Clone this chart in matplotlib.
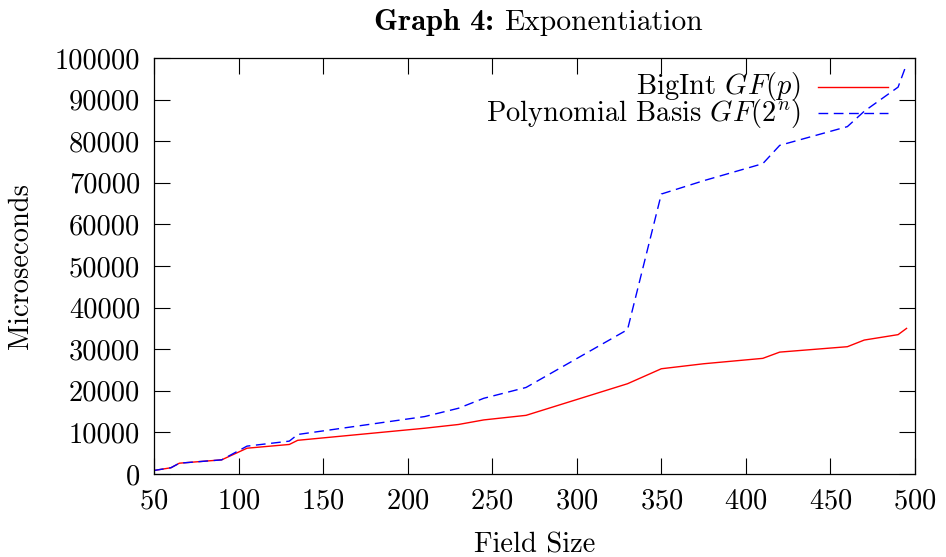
import matplotlib
matplotlib.use("Agg")
import matplotlib.pyplot as plt
from matplotlib.ticker import MultipleLocator, StrMethodFormatter

plt.rcParams['font.family'] = ['cmr10', 'DejaVu Serif']
plt.rcParams['mathtext.fontset'] = 'cm'
plt.rcParams['axes.formatter.use_mathtext'] = True

# field sizes (bits) and timings in microseconds
field_size = [50, 60, 65, 90, 105, 130, 135, 210, 230, 245, 270, 330, 350,
              375, 410, 420, 460, 470, 490, 495]
bigint_gfp = [850, 1500, 2600, 3400, 6200, 7100, 8100, 11000, 11900, 13000,
              14100, 21700, 25300, 26500, 27800, 29300, 30600, 32200, 33500, 35000]
poly_gf2n = [850, 1500, 2600, 3400, 6700, 7900, 9500, 13800, 15800, 18200,
             20800, 34700, 67300, 70500, 74600, 79000, 83500, 87200, 93000, 98500]

labels = [r"BigInt $GF(p)$", r"Polynomial Basis $GF(2^n)$"]
fs = 20.5

fig = plt.figure(figsize=(9.46, 5.57), dpi=100)
ax = fig.add_axes([154/946, 1 - 474/557, 761/946, 416/557])

red, = ax.plot(field_size, bigint_gfp, color='#ff0000', lw=1.0)
blue, = ax.plot(field_size, poly_gf2n, color='#0000ff', lw=1.0, dashes=(7, 4))

ax.set_xlim(50, 500)
ax.set_ylim(0, 100000)
ax.xaxis.set_major_locator(MultipleLocator(50))
ax.yaxis.set_major_locator(MultipleLocator(10000))
ax.yaxis.set_major_formatter(StrMethodFormatter('{x:.0f}'))
ax.tick_params(direction='in', length=11.5, width=0.8, top=True, right=True,
               labelsize=fs, pad=10)
for s in ax.spines.values():
    s.set_linewidth(0.9)

ax.set_xlabel("Field Size", fontsize=fs)
ax.xaxis.set_label_coords(0.5, -0.14)
ax.xaxis.label.set_va('top')
ax.set_ylabel("Microseconds", fontsize=fs)
ax.yaxis.set_label_coords(-0.158, 0.5)

# title: bold "Graph 4:" then regular text
title_y = 1 - 29.5/557
fig.text(494/946, title_y, "Graph 4:", family='cmb10', fontsize=22,
         ha='right', va='baseline')
fig.text(504/946, title_y, "Exponentiation", fontsize=21.3,
         ha='left', va='baseline')

# gnuplot style key: right aligned text, sample line on the right
key_y = [0.931, 0.867]
for line, lab, ky in zip([red, blue], labels, key_y):
    ax.text(0.851, ky, lab, transform=ax.transAxes, ha='right', va='center',
            fontsize=fs)
    ax.plot([0.8725, 0.9645], [ky, ky], transform=ax.transAxes,
            color=line.get_color(), lw=1.0,
            dashes=(7, 4) if line is blue else (None, None))

fig.savefig("out.png", dpi=100)
